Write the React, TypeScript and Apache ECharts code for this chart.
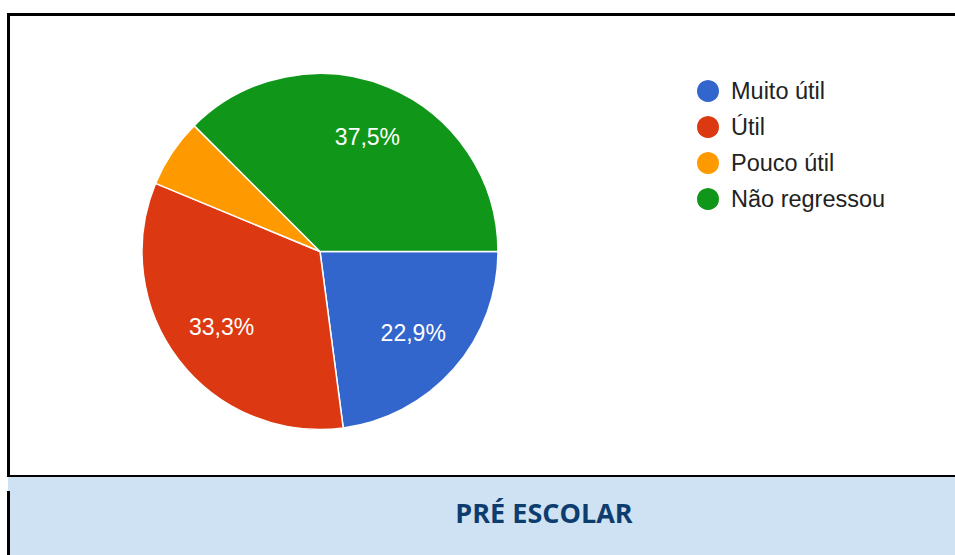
import React, { useEffect, useRef } from "react";
import * as echarts from "echarts";

const categories = ["Muito útil", "Útil", "Pouco útil", "Não regressou"];
const values = [11, 16, 3, 18];
const colors = ["#3366cc", "#dc3912", "#ff9900", "#109618"];
const hiddenLabels = ["Pouco útil"];
const footerTitle = "PRÉ ESCOLAR";

export default function App() {
  const ref = useRef<HTMLDivElement>(null);
  useEffect(() => {
    if (!ref.current) return;
    const chart = echarts.init(ref.current, null, { renderer: "svg" });
    const total = values.reduce((a, b) => a + b, 0);
    const data = categories.map((name, i) => ({
      name,
      value: values[i],
      itemStyle: { color: colors[i] },
    }));
    const labelData = categories.map((name, i) => ({
      name,
      value: values[i],
      itemStyle: { color: "rgba(0,0,0,0)" },
      label: { show: hiddenLabels.indexOf(name) < 0 },
    }));
    chart.setOption({
      animation: false,
      backgroundColor: "#ffffff",
      legend: {
        orient: "vertical",
        left: 690,
        top: 73,
        icon: "circle",
        itemWidth: 24,
        itemHeight: 24,
        itemGap: 10,
        data: categories,
        textStyle: {
          fontFamily: "Liberation Sans, Arial, sans-serif",
          fontSize: 23.5,
          lineHeight: 24,
          color: "#222222",
          padding: [0, 0, 0, 6],
        },
        selectedMode: false,
      },
      graphic: [
        { type: "rect", shape: { x: 8, y: 477, width: 947, height: 78 }, style: { fill: "#cfe2f3" }, z: 0 },
        { type: "rect", shape: { x: 7, y: 13, width: 948, height: 3 }, style: { fill: "#000000" }, z: 1 },
        { type: "rect", shape: { x: 7, y: 13, width: 3, height: 464 }, style: { fill: "#000000" }, z: 1 },
        { type: "rect", shape: { x: 7, y: 491, width: 3, height: 64 }, style: { fill: "#000000" }, z: 1 },
        { type: "rect", shape: { x: 8, y: 475, width: 947, height: 2 }, style: { fill: "#000000" }, z: 1 },
        {
          type: "text",
          x: 544,
          y: 512,
          style: {
            text: footerTitle,
            fontFamily: "Open Sans, sans-serif",
            fontWeight: "bold",
            fontSize: 27,
            fill: "#0d3c6e",
            align: "center",
            verticalAlign: "middle",
          },
          z: 2,
        },
      ],
      series: [
        {
          type: "pie",
          center: [320, 251.5],
          radius: [0, 178],
          startAngle: 0,
          clockwise: true,
          avoidLabelOverlap: false,
          label: { show: false },
          labelLine: { show: false },
          itemStyle: { borderColor: "#ffffff", borderWidth: 1.5 },
          emphasis: { disabled: true },
          data,
        },
        {
          type: "pie",
          center: [320, 251.5],
          radius: [106, 136],
          startAngle: 0,
          clockwise: true,
          silent: true,
          avoidLabelOverlap: false,
          labelLine: { show: false },
          label: {
            position: "inside",
            color: "#ffffff",
            fontFamily: "Liberation Sans, Arial, sans-serif",
            fontSize: 23,
            formatter: (p: any) => ((p.value / total) * 100).toFixed(1).replace(".", ",") + "%",
          },
          emphasis: { disabled: true },
          data: labelData,
          z: 3,
        },
      ],
    });
    return () => chart.dispose();
  }, []);
  return (
    <div
      ref={ref}
      style={{ position: "fixed", left: 0, top: 0, width: 955, height: 555 }}
    />
  );
}
